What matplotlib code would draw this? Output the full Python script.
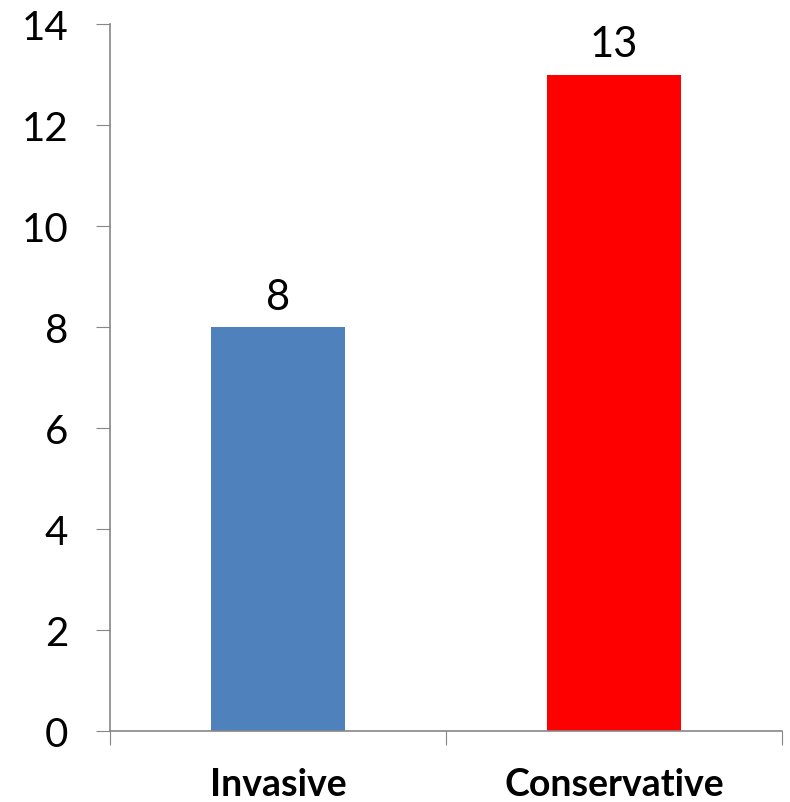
import matplotlib.pyplot as plt
import matplotlib.transforms as mtransforms
import numpy as np

# data
categories = ['Invasive', 'Conservative']
values = [8, 13]
colors = ['#4f81bd', '#ff0000']

plt.rcParams['font.family'] = ['Lato', 'DejaVu Sans']

fig = plt.figure(figsize=(7.9, 8.03), dpi=100)
ax = fig.add_axes([110/790, (803-732)/803, (782-110)/790, (732-25)/803])

x = np.arange(len(categories))
bars = ax.bar(x, values, width=0.4, color=colors)

# value labels on top of bars
for xi, v in zip(x, values):
    ax.annotate(str(v), (xi, v), xytext=(0, 8), textcoords='offset points',
                ha='center', va='bottom', fontsize=30)

ax.set_xlim(-0.5, 1.5)
ax.set_ylim(0, 14)
ax.set_yticks(range(0, 15, 2))
ax.tick_params(axis='y', labelsize=29, length=10, color='#868686', pad=20)

# category boundaries get the tick marks
ax.set_xticks([-0.5, 0.5, 1.5])
ax.set_xticklabels([])
ax.tick_params(axis='x', length=10, color='#868686')

# category names under the bars
trans = mtransforms.blended_transform_factory(ax.transData, ax.transAxes)
for xi, name in zip(x, categories):
    ax.text(xi, -53/707, name, transform=trans, ha='center', va='center',
            fontsize=27, fontweight='bold')

for side in ['top', 'right']:
    ax.spines[side].set_visible(False)
for side in ['left', 'bottom']:
    ax.spines[side].set_color('#868686')
    ax.spines[side].set_linewidth(1.2)

fig.savefig('out.png', dpi=100)
